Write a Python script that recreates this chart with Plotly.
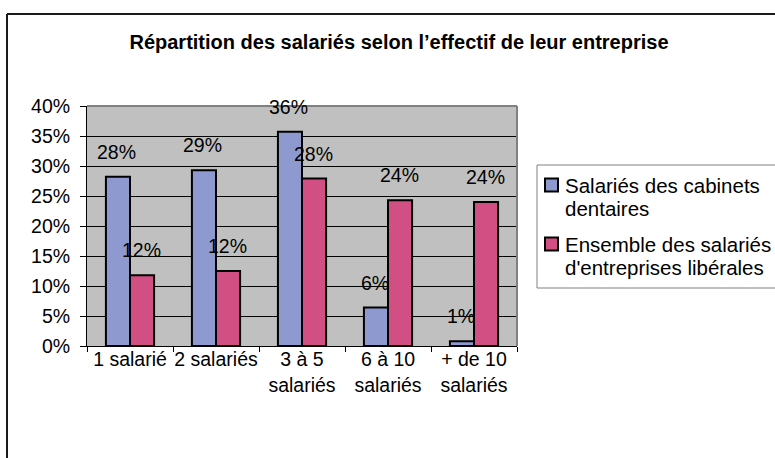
import plotly.graph_objects as go

categories = ["1 salarié", "2 salariés", "3 à 5<br>salariés", "6 à 10<br>salariés", "+ de 10<br>salariés"]
series_names = ["Salariés des cabinets dentaires", "Ensemble des salariés d'entreprises libérales"]
legend_lines = [["Salariés des cabinets", "dentaires"], ["Ensemble des salariés", "d'entreprises libérales"]]
dentaires = [28.2, 29.3, 35.7, 6.4, 0.8]
liberales = [11.8, 12.5, 27.9, 24.3, 24.0]
y_ticks = [0, 5, 10, 15, 20, 25, 30, 35, 40]
title_text = "Répartition des salariés selon l’effectif de leur entreprise"

colors = ["#8E9ACF", "#D24F83"]
FONT = "Arial, Liberation Sans, sans-serif"
W, H = 775, 458
L, R, T, B = 87, 258, 106, 112
PW, PH = W - L - R, H - T - B
BARGAP = 0.44

def px_x(px):
    return (px - L) / PW

def px_y(py):
    return (H - B - py) / PH

fig = go.Figure()
for name, vals, col in zip(series_names, [dentaires, liberales], colors):
    fig.add_trace(go.Bar(
        x=categories, y=vals, name=name,
        marker=dict(color=col, line=dict(color="black", width=2)),
        showlegend=False,
    ))

bar_w = PW / len(categories) * (1 - BARGAP) / 2
annotations = []
for si, vals in enumerate([dentaires, liberales]):
    shift = -bar_w / 2 if si == 0 else bar_w / 2
    for c, v in zip(categories, vals):
        annotations.append(dict(
            x=c, y=v, xref="x", yref="y", text=f"{round(v):d}%",
            showarrow=False, xshift=shift - 1, yshift=25, yanchor="middle",
            font=dict(family=FONT, size=19.5, color="black"),
        ))

shapes = []

def pline(x0, y0, x1, y1, color, width):
    shapes.append(dict(type="line", xref="paper", yref="paper",
                       x0=px_x(x0), x1=px_x(x1), y0=px_y(y0), y1=px_y(y1),
                       line=dict(color=color, width=width), layer="above"))

# manual legend (box open to the right edge)
pline(537, 165, 900, 165, "#808080", 1)
pline(537, 288, 900, 288, "#808080", 1)
pline(537, 165, 537, 288, "#808080", 1)
leg_y = [185, 244]
for i, (lines, col) in enumerate(zip(legend_lines, colors)):
    yc = leg_y[i]
    shapes.append(dict(type="rect", xref="paper", yref="paper",
                       x0=px_x(545), x1=px_x(558), y0=px_y(yc + 6.5), y1=px_y(yc - 6.5),
                       line=dict(color="black", width=2), fillcolor=col, layer="above"))
    for j, ln in enumerate(lines):
        annotations.append(dict(
            x=px_x(563), y=px_y(yc + 23 * j), xref="paper", yref="paper",
            text=ln, showarrow=False, xanchor="left", yanchor="middle",
            font=dict(family=FONT, size=20.5, color="black"),
        ))

# plot-area gray border (top, right)
shapes.append(dict(type="line", xref="paper", yref="paper", x0=0, x1=1, y0=1, y1=1,
                   line=dict(color="#808080", width=2), layer="above"))
shapes.append(dict(type="line", xref="paper", yref="paper", x0=1, x1=1, y0=0, y1=1,
                   line=dict(color="#808080", width=2), layer="above"))
# outer chart frame (top and left edges visible)
pline(7, 14, 900, 14, "#1a1a1a", 2)
pline(7, 14, 7, 600, "#1a1a1a", 2)

fig.update_layout(
    width=W, height=H,
    margin=dict(l=L, r=R, t=T, b=B, pad=0, autoexpand=False),
    paper_bgcolor="white", plot_bgcolor="#C0C0C0",
    barmode="group", bargap=BARGAP, bargroupgap=0,
    font=dict(family=FONT, size=19.5, color="black"),
    title=dict(text=f"<b>{title_text}</b>", x=399 / W, xanchor="center",
               y=1 - 42 / H, yanchor="middle", xref="container", yref="container",
               font=dict(family=FONT, size=20, color="black")),
    annotations=annotations, shapes=shapes,
    showlegend=False,
)
fig.update_xaxes(type="category", tickson="boundaries", ticks="outside", ticklen=5,
                 tickangle=0, automargin=False, ticklabelstandoff=-4,
                 tickcolor="black", tickwidth=1, showline=True, linecolor="black", linewidth=1,
                 showgrid=False, tickfont=dict(family=FONT, size=19.5, color="black"))
fig.update_yaxes(range=[0, 40], tickvals=y_ticks, ticktext=[f"{t}%" for t in y_ticks],
                 ticks="outside", ticklen=6, tickcolor="black", showline=True, automargin=False,
                 linecolor="black", linewidth=1, showgrid=True, gridcolor="black",
                 gridwidth=1, zeroline=False, ticklabelstandoff=6,
                 tickfont=dict(family=FONT, size=19.5, color="black"))

fig.write_html("out.html", config={"displayModeBar": False},
               post_script="document.body.style.margin='0';document.body.style.overflow='hidden';")
